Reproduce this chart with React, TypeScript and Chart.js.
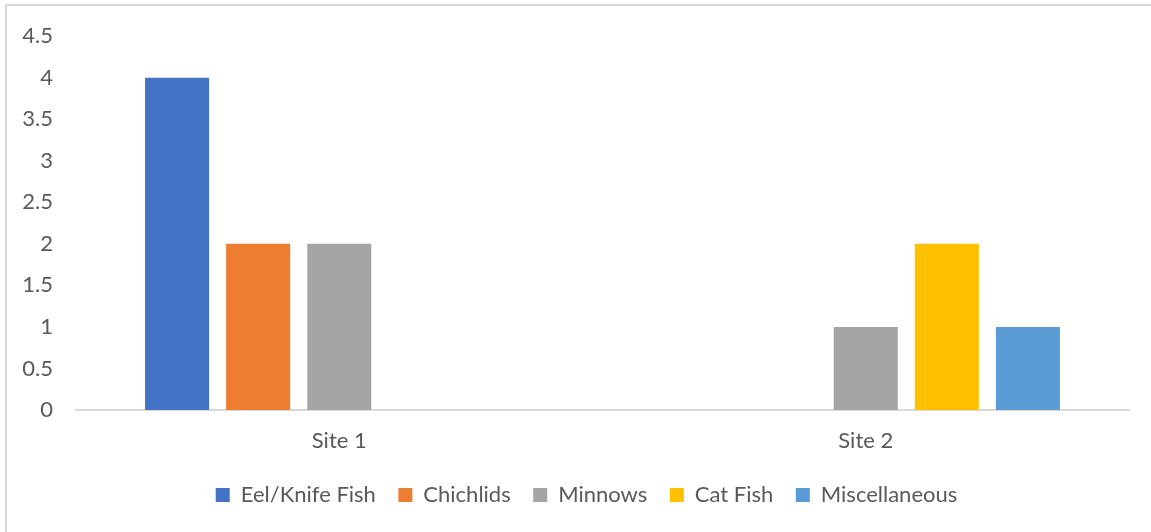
import React, { useEffect, useRef } from "react";
import { Chart, registerables } from "chart.js";

Chart.register(...registerables);

const categories = ["Site 1", "Site 2"];
const seriesNames = ["Eel/Knife Fish", "Chichlids", "Minnows", "Cat Fish", "Miscellaneous"];
const eelKnifeFish = [4, 0];
const chichlids = [2, 0];
const minnows = [2, 1];
const catFish = [0, 2];
const miscellaneous = [0, 1];
const seriesColors = ["#4472C4", "#ED7D31", "#A5A5A5", "#FFC000", "#5B9BD5"];
const yMin = 0;
const yMax = 4.5;
const yStep = 0.5;

const FONT = "Lato";
const TEXT = "#595959";

const shiftLegend = {
  id: "shiftLegend",
  afterLayout(chart: any) {
    const l = chart.legend;
    if (l) {
      l.left += 22;
      l.right += 22;
    }
  },
};

export default function App() {
  const ref = useRef<HTMLCanvasElement | null>(null);
  useEffect(() => {
    if (!ref.current) return;
    const values = [eelKnifeFish, chichlids, minnows, catFish, miscellaneous];
    const chart = new Chart(ref.current, {
      type: "bar",
      data: {
        labels: categories,
        datasets: seriesNames.map((name, i) => ({
          label: name,
          data: values[i],
          backgroundColor: seriesColors[i],
          borderWidth: 0,
          barPercentage: 0.79,
          categoryPercentage: 0.77,
        })),
      },
      plugins: [shiftLegend],
      options: {
        responsive: false,
        animation: false,
        layout: { padding: { top: 35, right: 22, bottom: 16, left: 0 } },
        plugins: {
          tooltip: { enabled: false },
          legend: {
            position: "bottom",
            labels: {
              boxWidth: 14,
              boxHeight: 14,
              padding: 22.5,
              color: TEXT,
              font: { family: FONT, size: 22 },
            },
          },
        },
        scales: {
          x: {
            grid: { display: false, drawTicks: false },
            border: { display: true, color: "#d9d9d9", width: 2 },
            ticks: { color: TEXT, font: { family: FONT, size: 22 }, padding: 18 },
            afterFit: (s: any) => {
              s.height = 51.5;
            },
          },
          y: {
            min: yMin,
            max: yMax,
            grid: { display: false, drawTicks: false },
            border: { display: false },
            ticks: {
              stepSize: yStep,
              color: TEXT,
              font: { family: FONT, size: 22 },
              padding: 23,
              callback: (v: any) => String(Number(v)),
            },
            afterFit: (s: any) => {
              s.width = 76;
            },
          },
        },
      },
    });
    return () => chart.destroy();
  }, []);
  return (
    <div style={{ position: "absolute", left: 0, top: 0, width: 1151, height: 532, overflow: "hidden", background: "#fff" }}>
      <canvas ref={ref} width={1151} height={532} style={{ position: "absolute", left: 0, top: 0 }} />
      <div
        style={{
          position: "absolute",
          left: 5,
          top: 4,
          width: 1300,
          height: 700,
          borderLeft: "2px solid #d9d9d9",
          borderTop: "2px solid #d9d9d9",
          pointerEvents: "none",
        }}
      />
    </div>
  );
}
